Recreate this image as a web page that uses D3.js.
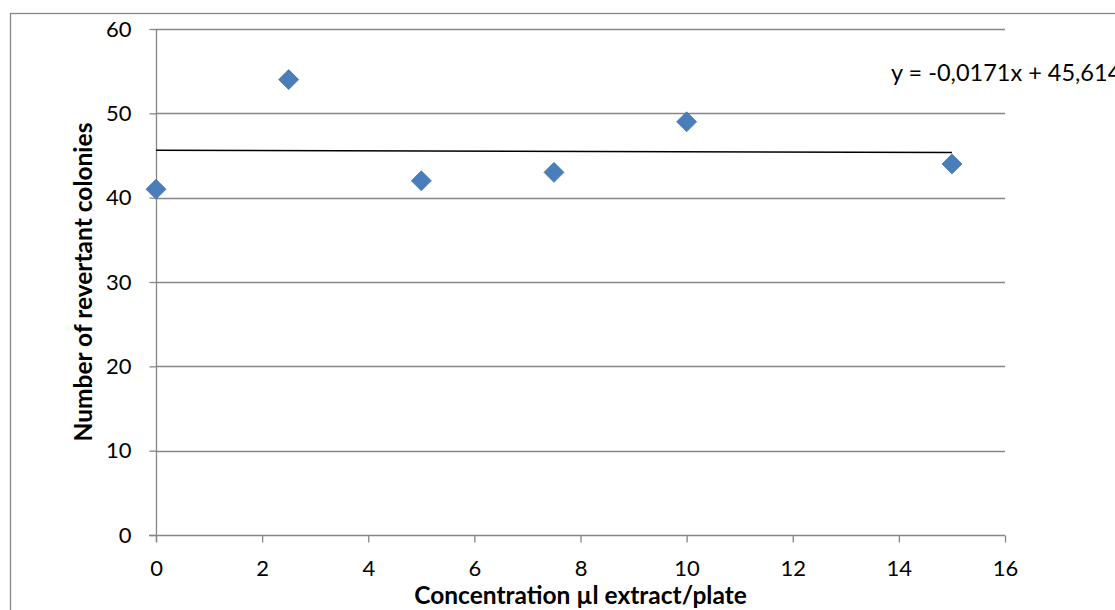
<!DOCTYPE html>
<html>
<head>
<meta charset="utf-8">
<script src="https://cdn.jsdelivr.net/npm/d3@7"></script>
<style>
  html, body { margin: 0; padding: 0; background: #fff; }
  svg { display: block; font-family: Lato, "Open Sans", sans-serif; }
</style>
</head>
<body>
<svg id="chart" width="1115" height="610"></svg>
<script>
// Revertant colonies per plate at each extract concentration
const concentrations = [0, 2.5, 5, 7.5, 10, 15];
const colonies = [41, 54, 42, 43, 49, 44];

// Linear trend fitted to the points
const slope = -0.0171;
const intercept = 45.614;
const trendLabel = "y = -0,0171x + 45,614";

const xTicks = [0, 2, 4, 6, 8, 10, 12, 14, 16];
const yTicks = [0, 10, 20, 30, 40, 50, 60];

const xTitle = "Concentration µl extract/plate";
const yTitle = "Number of revertant colonies";

const svg = d3.select("#chart");
const W = 1115, H = 610;
const plot = { left: 156, right: 1005, top: 29, bottom: 535 };
const axisGrey = "#868686";
const fontStack = "Lato, 'Open Sans', sans-serif";

// outer chart frame
svg.append("rect")
  .attr("x", 10.5).attr("y", 13.5)
  .attr("width", W + 20).attr("height", H + 20)
  .attr("fill", "none").attr("stroke", axisGrey).attr("stroke-width", 1.3);

const x = d3.scaleLinear().domain([0, 16]).range([plot.left, plot.right]);
const y = d3.scaleLinear().domain([0, 60]).range([plot.bottom, plot.top]);

// horizontal gridlines
svg.append("g")
  .selectAll("line")
  .data(yTicks.filter(t => t > 0))
  .join("line")
  .attr("x1", plot.left).attr("x2", plot.right)
  .attr("y1", d => Math.round(y(d)) + 0.5).attr("y2", d => Math.round(y(d)) + 0.5)
  .attr("stroke", axisGrey).attr("stroke-width", 1.3);

// y axis
const yAxis = svg.append("g")
  .attr("transform", `translate(${plot.left + 0.5},0)`)
  .call(d3.axisLeft(y).tickValues(yTicks).tickSize(7).tickPadding(18).tickFormat(d3.format("d")));
yAxis.select(".domain").attr("stroke", axisGrey).attr("stroke-width", 1.3).attr("d", `M0,${plot.top}V${plot.bottom + 7}`);
yAxis.selectAll(".tick line").attr("stroke", axisGrey).attr("stroke-width", 1.3);
yAxis.selectAll(".tick text").attr("font-size", 22).attr("fill", "#000").attr("font-family", fontStack);

// x axis
const xAxis = svg.append("g")
  .attr("transform", `translate(0,${plot.bottom + 0.5})`)
  .call(d3.axisBottom(x).tickValues(xTicks).tickSize(7).tickPadding(18).tickFormat(d3.format("d")));
xAxis.select(".domain").attr("stroke", axisGrey).attr("stroke-width", 1.3).attr("d", `M${plot.left - 7},0H${plot.right}`);
xAxis.selectAll(".tick line").attr("stroke", axisGrey).attr("stroke-width", 1.3);
xAxis.selectAll(".tick text").attr("font-size", 22).attr("fill", "#000").attr("font-family", fontStack);

// trend line across the data range
const xMin = d3.min(concentrations), xMax = d3.max(concentrations);
svg.append("line")
  .attr("x1", x(xMin)).attr("y1", y(slope * xMin + intercept))
  .attr("x2", x(xMax)).attr("y2", y(slope * xMax + intercept))
  .attr("stroke", "#000").attr("stroke-width", 1.5);

// data markers (diamonds)
const points = concentrations.map((c, i) => ({ c, v: colonies[i] }));
svg.append("g")
  .selectAll("path")
  .data(points)
  .join("path")
  .attr("transform", d => `translate(${x(d.c)},${y(d.v)})`)
  .attr("d", "M0,-10L10,0L0,10L-10,0Z")
  .attr("fill", "#4a7ebb")
  .attr("stroke", "#4677b4").attr("stroke-width", 0.8);

// trend equation (runs past the right edge of the chart area)
svg.append("text")
  .attr("x", 891).attr("y", 81)
  .attr("font-size", 23.5)
  .attr("fill", "#000")
  .text(trendLabel);

// axis titles
svg.append("text")
  .attr("x", (plot.left + plot.right) / 2).attr("y", 604)
  .attr("text-anchor", "middle")
  .attr("font-size", 24.5).attr("font-weight", "bold")
  .text(xTitle);

svg.append("text")
  .attr("transform", `translate(92,${(plot.top + plot.bottom) / 2}) rotate(-90)`)
  .attr("text-anchor", "middle")
  .attr("font-size", 24.5).attr("font-weight", "bold")
  .text(yTitle);
</script>
</body>
</html>
